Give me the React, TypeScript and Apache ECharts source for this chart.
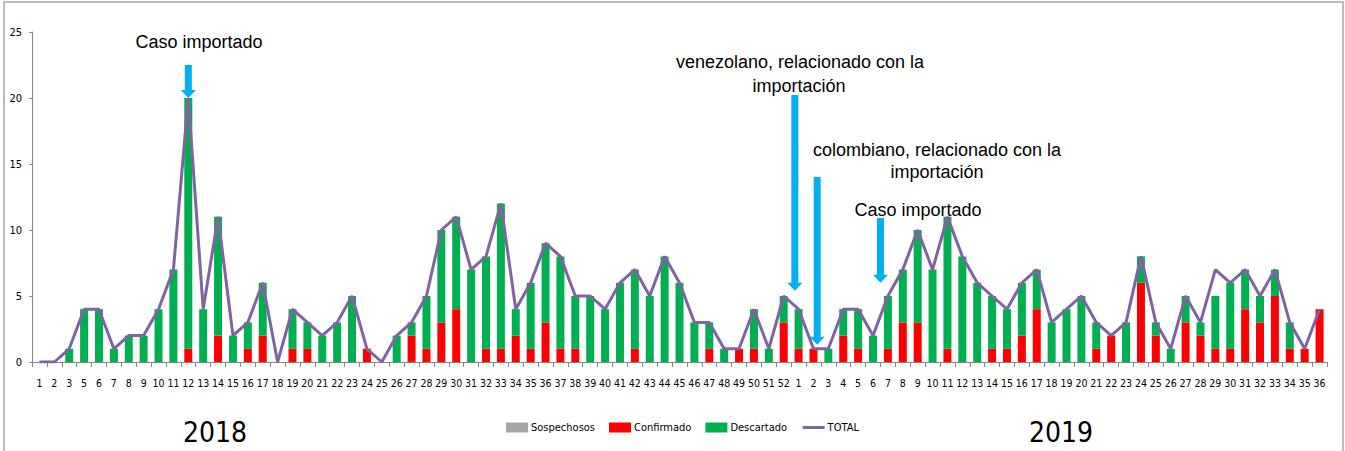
import React, { useEffect, useRef } from "react";
import * as echarts from "echarts";

const weeks2018 = [1, 2, 3, 5, 6, 7, 8, 9, 10, 11, 12, 13, 14, 15, 16, 17, 18, 19, 20, 21, 22, 23, 24, 25, 26, 27, 28, 29, 30, 31, 32, 33, 34, 35, 36, 37, 38, 39, 40, 41, 42, 43, 44, 45, 46, 47, 48, 49, 50, 51, 52];
const weeks2019 = [1, 2, 3, 4, 5, 6, 7, 8, 9, 10, 11, 12, 13, 14, 15, 16, 17, 18, 19, 20, 21, 22, 23, 24, 25, 26, 27, 28, 29, 30, 31, 32, 33, 34, 35, 36];

const confirmado2018 = [0, 0, 0, 0, 0, 0, 0, 0, 0, 0, 1, 0, 2, 0, 1, 2, 0, 1, 1, 0, 0, 0, 1, 0, 0, 2, 1, 3, 4, 0, 1, 1, 2, 1, 3, 1, 1, 0, 0, 0, 1, 0, 0, 0, 0, 1, 0, 1, 1, 0, 3];
const descartado2018 = [0, 0, 1, 4, 4, 1, 2, 2, 4, 7, 19, 4, 9, 2, 2, 4, 0, 3, 2, 2, 3, 5, 0, 0, 2, 1, 4, 7, 7, 7, 7, 11, 2, 5, 6, 7, 4, 5, 4, 6, 6, 5, 8, 6, 3, 2, 1, 0, 3, 1, 2];
const total2018 = [0, 0, 1, 4, 4, 1, 2, 2, 4, 7, 20, 4, 11, 2, 3, 6, 0, 4, 3, 2, 3, 5, 1, 0, 2, 3, 5, 10, 11, 7, 8, 12, 4, 6, 9, 8, 5, 5, 4, 6, 7, 5, 8, 6, 3, 3, 1, 1, 4, 1, 5];

const confirmado2019 = [1, 1, 0, 2, 1, 0, 1, 3, 3, 0, 1, 0, 0, 1, 1, 2, 4, 0, 0, 0, 1, 2, 0, 6, 2, 0, 3, 2, 1, 1, 4, 3, 5, 1, 1, 4];
const descartado2019 = [3, 0, 1, 2, 3, 2, 4, 4, 7, 7, 10, 8, 6, 4, 3, 4, 3, 3, 4, 5, 2, 0, 3, 2, 1, 1, 2, 1, 4, 5, 3, 2, 2, 2, 0, 0];
const total2019 = [4, 1, 1, 4, 4, 2, 5, 7, 10, 7, 11, 8, 6, 5, 4, 6, 7, 3, 4, 5, 3, 2, 3, 8, 3, 1, 5, 3, 7, 6, 7, 5, 7, 3, 1, 4];

const sospechosos = new Array(weeks2018.length + weeks2019.length).fill(0);

const categories = [...weeks2018, ...weeks2019].map(String);
const confirmado = [...confirmado2018, ...confirmado2019];
const descartado = [...descartado2018, ...descartado2019];
const total = [...total2018, ...total2019];

const yTicks = [0, 5, 10, 15, 20, 25];

// annotations: category index (+ fractional shift), top pixel, tip value
const arrows = [
  { idx: 10, shift: 0, top: 65, tip: 20 },
  { idx: 51, shift: -0.25, top: 95, tip: 5.4 },
  { idx: 52, shift: 0.25, top: 177, tip: 1.3 },
  { idx: 56, shift: 0.5, top: 218, tip: 6.0 },
];

const notes = [
  { text: "Caso importado", x: 199, y: 42 },
  { text: "venezolano, relacionado con la", x: 800, y: 62 },
  { text: "importación", x: 799, y: 86 },
  { text: "colombiano, relacionado con la", x: 937, y: 150 },
  { text: "importación", x: 937, y: 172 },
  { text: "Caso importado", x: 918, y: 210 },
];

const NARROW = "'Liberation Sans Narrow', 'DejaVu Sans Condensed', sans-serif";
const ARIAL = "'Liberation Sans', Arial, sans-serif";

export default function App() {
  const ref = useRef<HTMLDivElement>(null);

  useEffect(() => {
    document.body.style.margin = "0";
    const chart = echarts.init(ref.current!, null, { renderer: "svg" });
    chart.setOption({
      animation: false,
      backgroundColor: "#ffffff",
      grid: { left: 32, right: 18, top: 32, bottom: 89, containLabel: false },
      legend: {
        left: 501,
        top: 417,
        itemWidth: 22,
        itemHeight: 10,
        itemGap: 14,
        textStyle: { fontFamily: NARROW, fontSize: 11, color: "#000", padding: [0, 0, 0, -2] },
        data: [
          { name: "Sospechosos", icon: "rect" },
          { name: "Confirmado", icon: "rect" },
          { name: "Descartado", icon: "rect" },
          { name: "TOTAL", itemStyle: { opacity: 0 }, lineStyle: { width: 3, color: "#8064A2" } },
        ],
      },
      xAxis: {
        type: "category",
        data: categories,
        boundaryGap: true,
        axisLine: { lineStyle: { color: "#868686", width: 1 } },
        axisTick: { show: true, length: 5, alignWithLabel: false, interval: 0, lineStyle: { color: "#868686" } },
        axisLabel: { interval: 0, fontFamily: NARROW, fontSize: 10.5, color: "#000", margin: 15 },
        splitLine: { show: false },
      },
      yAxis: {
        type: "value",
        min: yTicks[0],
        max: yTicks[yTicks.length - 1],
        interval: 5,
        axisLine: { show: true, lineStyle: { color: "#868686", width: 1 } },
        axisTick: { show: true, length: 3, lineStyle: { color: "#868686" } },
        axisLabel: { fontFamily: NARROW, fontSize: 11, color: "#000", margin: 10 },
        splitLine: { show: false },
      },
      series: [
        {
          name: "Confirmado",
          type: "bar",
          stack: "s",
          data: confirmado,
          barWidth: 8,
          itemStyle: { color: "#FF0000" },
        },
        {
          name: "Descartado",
          type: "bar",
          stack: "s",
          data: descartado,
          barWidth: 8,
          itemStyle: { color: "#00B050" },
        },
        {
          name: "Sospechosos",
          type: "bar",
          stack: "s",
          data: sospechosos,
          barWidth: 8,
          itemStyle: { color: "#A6A6A6" },
        },
        {
          name: "TOTAL",
          type: "line",
          data: total,
          symbol: "none",
          lineStyle: { color: "#8064A2", width: 3 },
          itemStyle: { color: "#8064A2" },
          z: 5,
        },
      ],
    });

    const graphics: any[] = [
      {
        type: "rect",
        shape: { x: 4, y: 2, width: 1339, height: 470 },
        style: { fill: "none", stroke: "#A6A6A6", lineWidth: 1.5 },
        silent: true,
      },
      {
        type: "text",
        x: 215,
        y: 432,
        style: { text: "2018", font: `28px ${NARROW}`, fill: "#000", textAlign: "center", textVerticalAlign: "middle" },
      },
      {
        type: "text",
        x: 1061,
        y: 432,
        style: { text: "2019", font: `28px ${NARROW}`, fill: "#000", textAlign: "center", textVerticalAlign: "middle" },
      },
    ];
    notes.forEach((n) => {
      graphics.push({
        type: "text",
        x: n.x,
        y: n.y,
        style: { text: n.text, font: `18px ${ARIAL}`, fill: "#000", textAlign: "center", textVerticalAlign: "middle" },
      });
    });
    arrows.forEach((a) => {
      const p0 = chart.convertToPixel({ xAxisIndex: 0, yAxisIndex: 0 }, [a.idx, a.tip]) as number[];
      const p1 = chart.convertToPixel({ xAxisIndex: 0, yAxisIndex: 0 }, [a.idx + 1, a.tip]) as number[];
      const cx = p0[0] + (p1[0] - p0[0]) * a.shift;
      const tipY = p0[1];
      const sw = 3.5;
      const hw = 7.5;
      const hl = 8;
      graphics.push({
        type: "polygon",
        shape: {
          points: [
            [cx - sw, a.top],
            [cx + sw, a.top],
            [cx + sw, tipY - hl],
            [cx + hw, tipY - hl],
            [cx, tipY],
            [cx - hw, tipY - hl],
            [cx - sw, tipY - hl],
          ],
        },
        style: { fill: "#00B0F0" },
        z: 10,
      });
    });
    chart.setOption({ graphic: graphics });

    return () => chart.dispose();
  }, []);

  return <div ref={ref} style={{ position: "fixed", left: 0, top: 0, width: 1345, height: 451 }} />;
}
